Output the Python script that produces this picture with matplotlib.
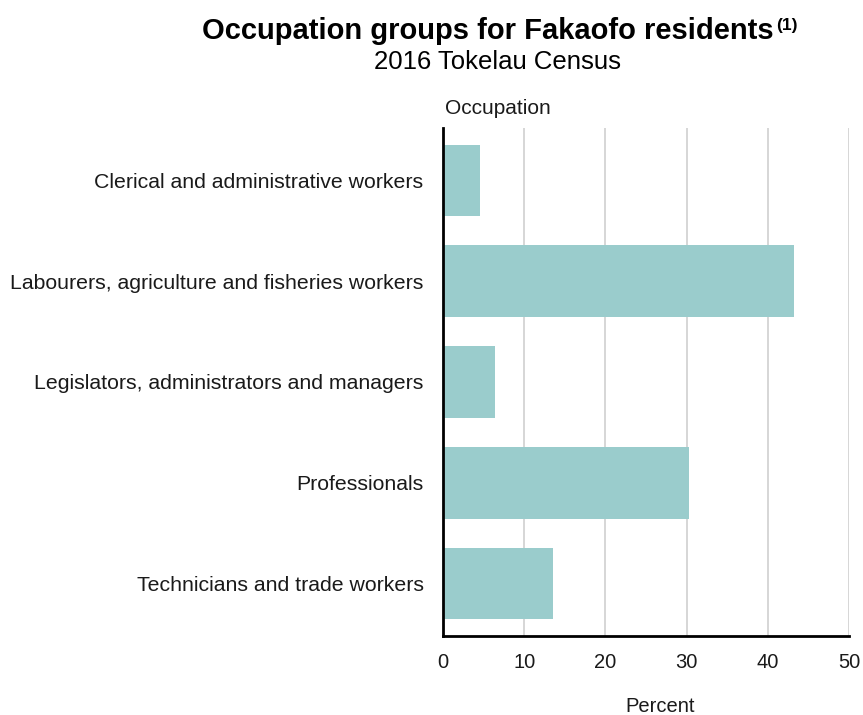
import matplotlib.pyplot as plt

plt.rcParams['font.family'] = ['Liberation Sans', 'DejaVu Sans']

occupations = [
    "Clerical and administrative workers",
    "Labourers, agriculture and fisheries workers",
    "Legislators, administrators and managers",
    "Professionals",
    "Technicians and trade workers",
]
percent = [4.6, 43.2, 6.4, 30.3, 13.6]
x_ticks = [0, 10, 20, 30, 40, 50]

fig = plt.figure(figsize=(8.63, 7.15), dpi=100)
ax = fig.add_axes([443 / 863, 1 - 636 / 715, 406 / 863, 508 / 715])

pos = list(range(len(occupations)))
ax.barh(pos, percent, height=0.71, color='#9acccc', zorder=2)

ax.set_ylim(len(occupations) - 0.48, -0.52)
ax.set_xlim(0, 50)
ax.set_yticks(pos)
ax.set_yticklabels(occupations, fontsize=15.3, color='#1a1a1a')
ax.set_xticks(x_ticks)
ax.set_xticklabels([str(v) for v in x_ticks], fontsize=14.5, color='#1a1a1a')
ax.tick_params(axis='both', length=0)
ax.tick_params(axis='y', pad=14)
ax.tick_params(axis='x', pad=12)

ax.grid(axis='x', color='#d0d0d0', linewidth=1.2, zorder=0)
ax.spines['top'].set_visible(False)
ax.spines['right'].set_visible(False)
for s in ('left', 'bottom'):
    ax.spines[s].set_linewidth(2)
    ax.spines[s].set_color('black')
    ax.spines[s].set_zorder(3)

fig.text(660 / 863, 1 - 707 / 715, 'Percent', fontsize=14.5, color='#1a1a1a',
         ha='center', va='center')
fig.text(445 / 863, 1 - 108 / 715, 'Occupation', fontsize=15, color='#1a1a1a',
         ha='left', va='center')

t = fig.text(488 / 863, 1 - 31 / 715, 'Occupation groups for Fakaofo residents',
             fontsize=21, fontweight='bold', ha='center', va='center')
ax.annotate('(1)', xy=(1, 1), xycoords=t, xytext=(1.5, -1), textcoords='offset points',
            fontsize=12.5, fontweight='bold', ha='left', va='top')
fig.text(497 / 863, 1 - 62 / 715, '2016 Tokelau Census', fontsize=18.5,
         ha='center', va='center')

fig.savefig('out.png', dpi=100)
